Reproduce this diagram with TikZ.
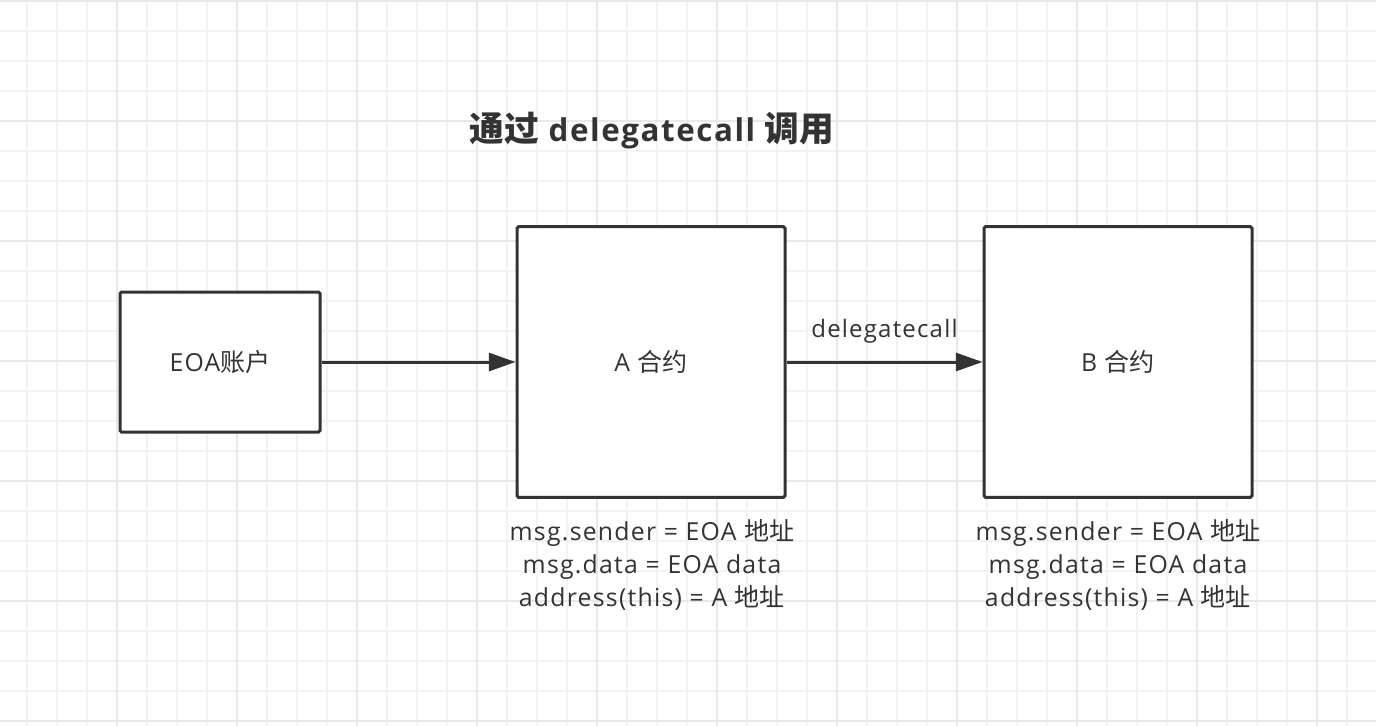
\documentclass[tikz,border=0pt]{standalone}
\usepackage{fontspec}
\setmainfont{Open Sans}[LetterSpace=5]
\newfontfamily\cjk{Noto Sans CJK SC}
\newcommand{\zh}[1]{{\cjk\fontsize{18.8}{24.75}\selectfont #1}}
\newcommand{\zhtit}[1]{{\cjk\bfseries\fontsize{26}{30}\selectfont #1}}
\usetikzlibrary{arrows.meta}

\definecolor{inchiostro}{HTML}{333333}
\definecolor{grigliamin}{HTML}{F3F3F3}
\definecolor{grigliamag}{HTML}{E8E8E8}

\tikzset{
    scatola/.style={draw=inchiostro, line width=2.25pt, rounded corners=1.2pt, fill=white},
    testo/.style={font=\fontsize{18.6}{24.75}\selectfont, text=inchiostro, align=center, inner sep=0pt},
    freccia/.style={draw=inchiostro, line width=2.25pt, -{Triangle[length=20pt,width=13.5pt]}}
}

\begin{document}
\begin{tikzpicture}[x=0.75pt, y=-0.75pt]
        \useasboundingbox (0,0) rectangle (1376,726);
        \fill[white] (0,0) rectangle (1376,726);

        % Griglia di sfondo
        \foreach \gx in {27,57,...,1377} \draw[grigliamin, line width=1.5pt] (\gx,0) -- (\gx,726);
        \foreach \gy in {1,31,...,726} \draw[grigliamin, line width=1.5pt] (0,\gy) -- (1376,\gy);
        \foreach \gx in {117,237,...,1377} \draw[grigliamag, line width=1.5pt] (\gx,0) -- (\gx,726);
        \foreach \gy in {1,121,...,726} \draw[grigliamag, line width=1.5pt] (0,\gy) -- (1376,\gy);

        % Titolo
        \node[testo, font=\bfseries\fontsize{23.5}{30}\selectfont] (titolo) at (652,131) {\zhtit{通过} delegatecall \zhtit{调用}};

        % Scatole
        \node[scatola, minimum width=150pt, minimum height=105pt, testo] (eoa) at (220,362) {EOA\zh{账户}};
        \node[scatola, minimum width=201pt, minimum height=203pt, testo] (contrA) at (651,362) {A \zh{合约}};
        \node[scatola, minimum width=201pt, minimum height=203pt, testo] (contrB) at (1118,362) {B \zh{合约}};

        % Frecce
        \draw[freccia] (eoa) -- (contrA);
        \draw[freccia] (contrA) -- node[testo, above=13pt, font=\fontsize{18}{24.75}\selectfont] (etichetta) {delegatecall} (contrB);

        % Contesto sotto le scatole
        \node[testo] (ctxA) at (652,565) {msg.sender = EOA \zh{地址}\\msg.data = EOA data\\address(this) = A \zh{地址}};
        \node[testo] (ctxB) at (1118,565) {msg.sender = EOA \zh{地址}\\msg.data = EOA data\\address(this) = A \zh{地址}};
    \end{tikzpicture}
\end{document}
